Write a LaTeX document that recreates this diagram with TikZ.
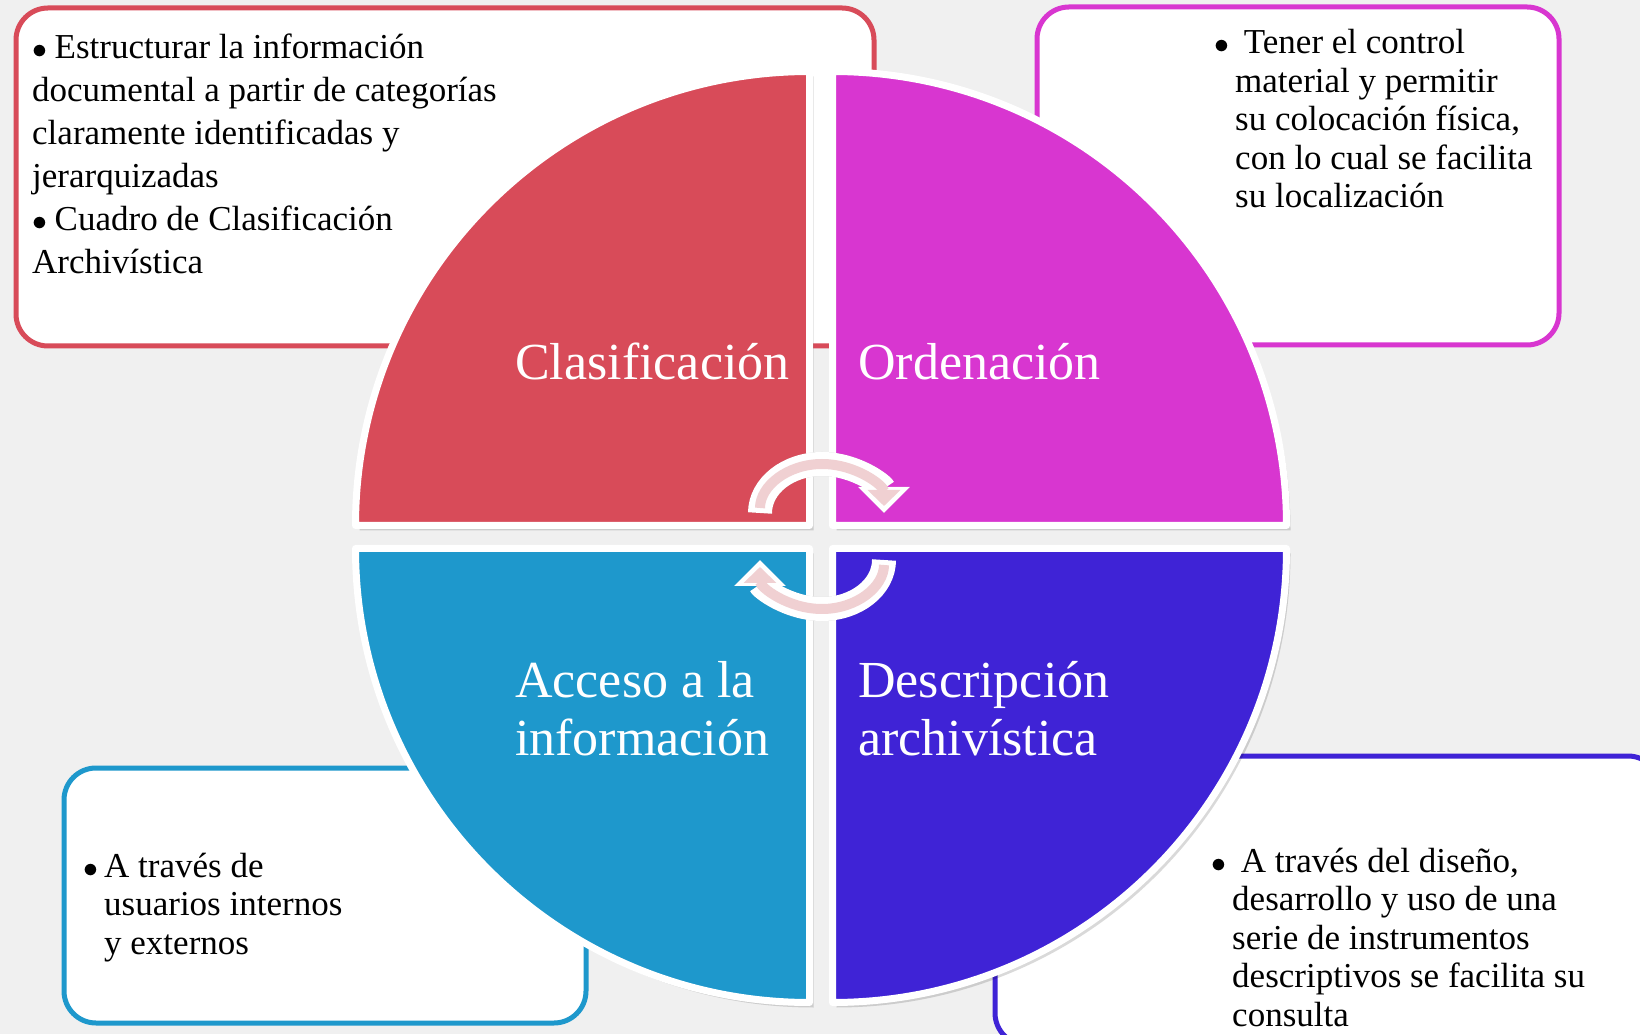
\documentclass[tikz,border=0pt]{standalone}
\usepackage{fontspec}
\setmainfont{Liberation Serif}
\usetikzlibrary{arrows.meta,shadows}
\definecolor{clasred}{RGB}{216,75,89}
\definecolor{ordmagenta}{RGB}{216,54,208}
\definecolor{acccyan}{RGB}{30,152,204}
\definecolor{descblue}{RGB}{63,35,214}
\definecolor{cyclepink}{RGB}{240,208,210}
\tikzstyle{infobox}=[draw, line width=5pt, rounded corners=32pt, fill=white, inner sep=0pt]
\tikzstyle{quarter}=[draw=white, line width=7pt, line join=round, general shadow={fill=black, opacity=.15, shadow xshift=4pt, shadow yshift=-5pt}]
\tikzstyle{boxtext}=[anchor=base west, align=left, inner sep=0pt, font=\fontsize{35}{38.5}\selectfont]
\tikzstyle{quartertext}=[anchor=base west, align=left, inner sep=0pt, text=white, font=\fontsize{52}{58}\selectfont]
\tikzstyle{cycleshadow}=[black, opacity=.15, line width=24pt, -{Triangle[width=50pt,length=26pt]}]
\tikzstyle{cycleout}=[white, line width=24pt, -{Triangle[width=50pt,length=26pt]}]
\tikzstyle{cyclein}=[cyclepink, line width=10pt, shorten <=5pt, shorten >=7pt, -{Triangle[width=32pt,length=16pt]}]
\newcommand{\infobox}{\node[infobox]}
\newcommand{\boxtext}{\node[boxtext]}
\newcommand{\quartertext}{\node[quartertext]}
\newcommand{\bigbullet}{\scalebox{1.2}{$\bullet$}}
\newcommand{\inlinebullet}{\bigbullet\hspace{7.6pt}}
\newcommand{\hangbullet}{\makebox[0pt][r]{\bigbullet\hspace{6pt}}}

\begin{document}
\begin{tikzpicture}[x=1pt, y=1pt]
\useasboundingbox (0,0) rectangle (1640,1034);
\fill[black!6] (0,0) rectangle (1640,1034);
\infobox (clasbox) at (445,857) [draw=clasred, minimum width=858pt, minimum height=338pt] {};
\infobox (ordbox) at (1298,858) [draw=ordmagenta, minimum width=522pt, minimum height=338pt] {};
\infobox (accbox) at (325,138.5) [draw=acccyan, minimum width=522pt, minimum height=255pt] {};
\infobox (descbox) at (1327.5,133.5) [draw=descblue, minimum width=665pt, minimum height=289pt] {};
\boxtext (clastext) at (32,760) [font=\fontsize{35}{43}\selectfont] {\inlinebullet Estructurar la información\\documental a partir de categorías\\claramente identificadas y\\jerarquizadas\\\inlinebullet Cuadro de Clasificación\\Archivística};
\boxtext (ordtext) at (1235,826) {\hangbullet\ Tener el control\\material y permitir\\su colocación física,\\con lo cual se facilita\\su localización};
\boxtext (acctext) at (104,80) {\hangbullet A través de\\usuarios internos\\y externos};
\boxtext (desctext) at (1232,8) {\hangbullet\ A través del diseño,\\desarrollo y uso de una\\serie de instrumentos\\descriptivos se facilita su\\consulta};
\path[quarter, fill=clasred] (809.5,508.5) -- ++(-454,0) arc (180:90:454pt) -- cycle;
\path[quarter, fill=ordmagenta] (832.5,508.5) -- ++(0,454) arc (90:0:454pt) -- cycle;
\path[quarter, fill=acccyan] (809.5,485.5) -- ++(0,-454) arc (270:180:454pt) -- cycle;
\path[quarter, fill=descblue] (832.5,485.5) -- ++(454,0) arc (0:-90:454pt) -- cycle;
\quartertext (clasif) at (515,654) {Clasificación};
\quartertext (orden) at (858,654) {Ordenación};
\quartertext (acceso) at (515,279) {Acceso a la\\información};
\quartertext (descrip) at (858,279) {Descripción\\archivística};
\coordinate (upfoot) at (760,521);
\coordinate (lowfoot) at (884,474);
\draw[cycleshadow, shift={(2,-3)}] (upfoot) arc[start angle=180, end angle=0, x radius=62pt, y radius=49pt];
\draw[cycleout] (upfoot) arc[start angle=180, end angle=0, x radius=62pt, y radius=49pt];
\draw[cyclein] (upfoot) arc[start angle=180, end angle=0, x radius=62pt, y radius=49pt];
\draw[cycleshadow, shift={(2,-3)}] (lowfoot) arc[start angle=0, end angle=-180, x radius=62pt, y radius=49pt];
\draw[cycleout] (lowfoot) arc[start angle=0, end angle=-180, x radius=62pt, y radius=49pt];
\draw[cyclein] (lowfoot) arc[start angle=0, end angle=-180, x radius=62pt, y radius=49pt];
\end{tikzpicture}
\end{document}
